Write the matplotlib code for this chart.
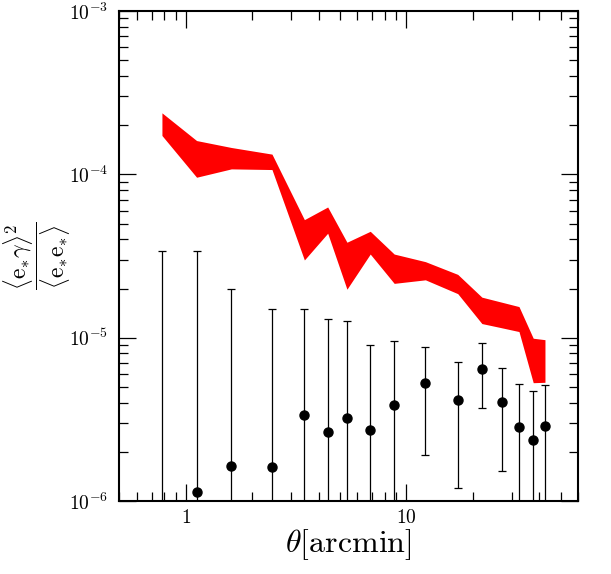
import matplotlib
matplotlib.use("Agg")
import matplotlib.pyplot as plt
import numpy as np

plt.rcParams['mathtext.fontset'] = 'cm'
plt.rcParams['font.family'] = ['DejaVu Serif']

# data
theta = [0.78, 1.12, 1.61, 2.46, 3.45, 4.40, 5.38, 6.86, 8.81, 12.2, 17.1, 22.0, 27.0, 32.4, 37.6, 42.5]
ratio = [8.0e-7, 1.135e-6, 1.63e-6, 1.61e-6, 3.37e-6, 2.66e-6, 3.24e-6, 2.71e-6, 3.89e-6,
         5.3e-6, 4.17e-6, 6.46e-6, 4.02e-6, 2.85e-6, 2.35e-6, 2.88e-6]
err_hi = [3.41e-5, 3.38e-5, 2.0e-5, 1.49e-5, 1.49e-5, 1.30e-5, 1.27e-5, 8.98e-6, 9.59e-6,
          8.73e-6, 7.13e-6, 9.24e-6, 6.52e-6, 5.2e-6, 4.7e-6, 5.1e-6]
err_lo = [1e-7, 1e-7, 1e-7, 1e-7, 1e-7, 1e-7, 1e-7, 1e-7, 1e-7,
          1.91e-6, 1.20e-6, 3.73e-6, 1.53e-6, 1e-7, 1e-7, 1e-7]
band_hi = [2.38e-4, 1.61e-4, 1.46e-4, 1.33e-4, 5.28e-5, 6.31e-5, 3.84e-5, 4.48e-5, 3.25e-5,
           2.92e-5, 2.44e-5, 1.77e-5, 1.65e-5, 1.55e-5, 9.92e-6, 9.72e-6]
band_lo = [1.73e-4, 9.6e-5, 1.08e-4, 1.07e-4, 2.99e-5, 4.36e-5, 1.98e-5, 3.25e-5, 2.15e-5,
           2.26e-5, 1.86e-5, 1.22e-5, 1.15e-5, 1.09e-5, 5.30e-6, 5.33e-6]
ytick_vals = [1e-6, 1e-5, 1e-4, 1e-3]
ytick_labels = [r'$10^{-6}$', r'$10^{-5}$', r'$10^{-4}$', r'$10^{-3}$']
xtick_vals = [1, 10]
xtick_labels = [r'$1$', r'$10$']

fig = plt.figure(figsize=(6.11, 5.74), dpi=100)
ax = fig.add_axes([0.1953, 0.1272, 0.7507, 0.8536])
ax.set_xscale('log')
ax.set_yscale('log')

ax.fill_between(theta, band_lo, band_hi, color='#ff0000', linewidth=0, zorder=2)

r = np.array(ratio)
yerr = [r - np.array(err_lo), np.array(err_hi) - r]
ax.errorbar(theta, ratio, yerr=yerr, fmt='o', color='black', markersize=6.5,
            elinewidth=0.9, capsize=3, capthick=0.9, zorder=3)

ax.set_xlim(0.5, 60)
ax.set_ylim(1e-6, 1e-3)
ax.set_yticks(ytick_vals)
ax.set_yticklabels(ytick_labels)
ax.set_xticks(xtick_vals)
ax.set_xticklabels(xtick_labels)

for s in ax.spines.values():
    s.set_linewidth(1.5)
ax.tick_params(which='both', direction='in', top=True, right=True, labelsize=14, width=0.9)
ax.tick_params(which='major', length=12, pad=8)
ax.tick_params(which='minor', length=6.5)
ax.tick_params(axis='x', which='major', pad=6)

ax.set_xlabel(r'$\theta[\mathrm{arcmin}]$', fontsize=23, labelpad=0)
ax.set_ylabel(r'$\dfrac{\langle \mathrm{e}_{*}\gamma\rangle^{2}}{\langle \mathrm{e}_{*}\mathrm{e}_{*}\rangle}$',
              fontsize=17, va='center')
ax.yaxis.set_label_coords(-0.178, 0.5)

fig.savefig('out.png', dpi=100)
